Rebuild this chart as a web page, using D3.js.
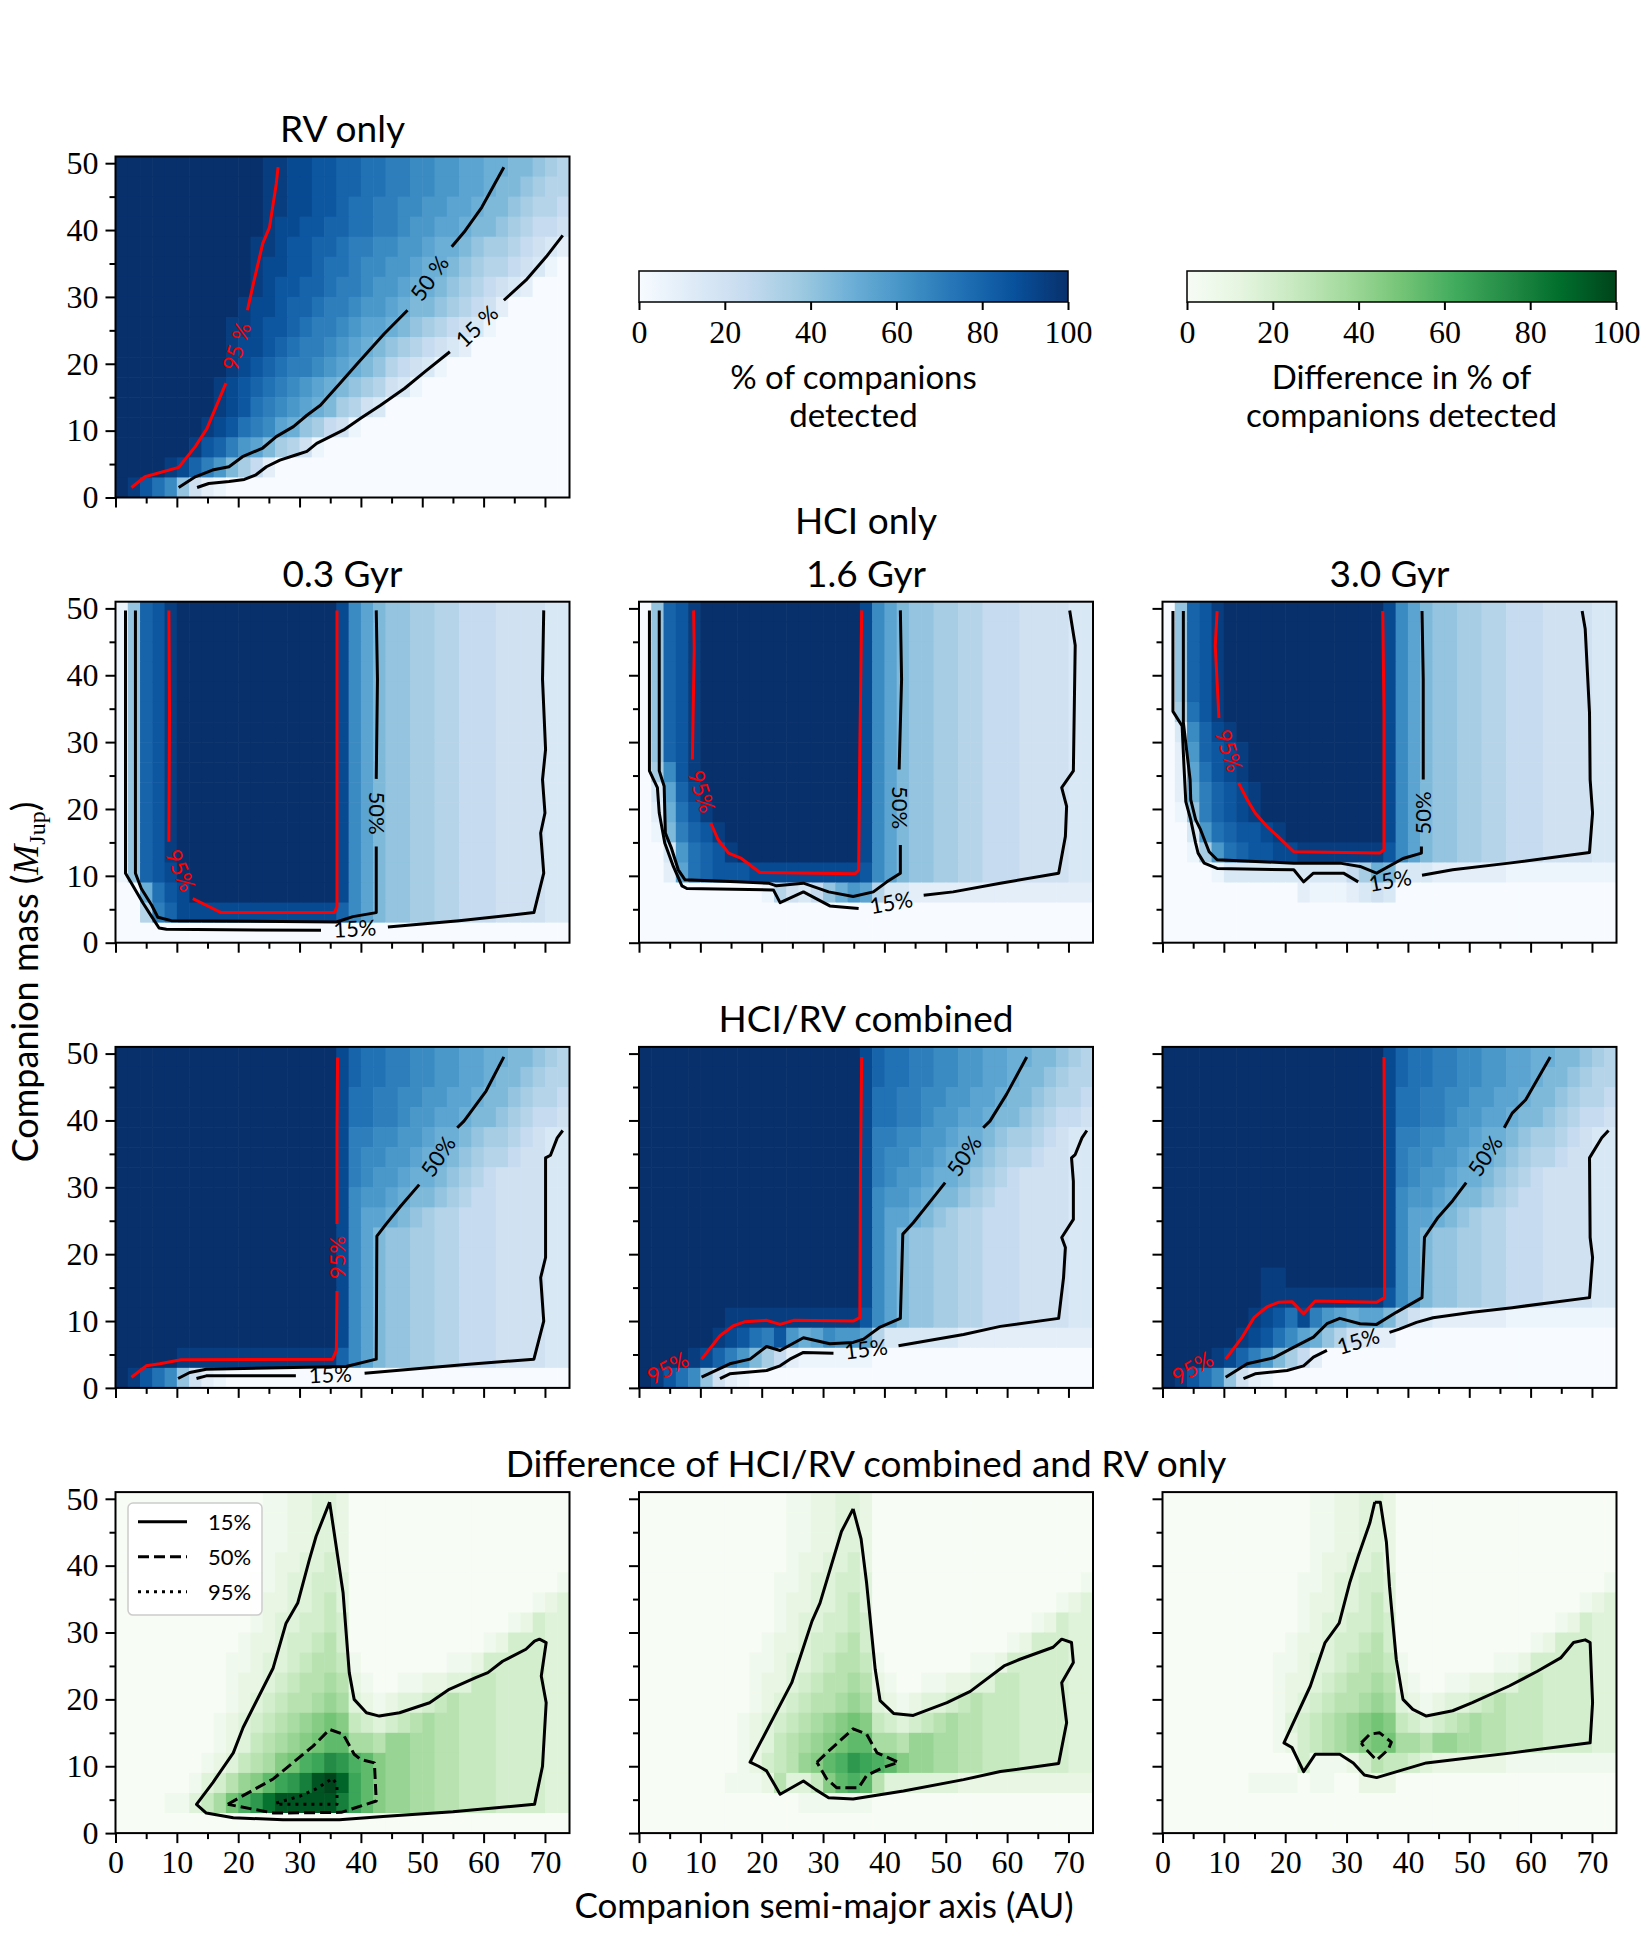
<!DOCTYPE html>
<html>
<head>
<meta charset="utf-8">
<script src="https://cdn.jsdelivr.net/npm/d3@7"></script>
<style>
  body { margin: 0; background: #fff; }
  svg { display: block; background: #fff; }
  .tick text { font-family: "Liberation Serif", "DejaVu Serif", serif !important; }
</style>
</head>
<body>
<svg id="fig" width="1650" height="1950"></svg>
<script>
// ---- data ----
// each grid: 17 rows of 37 cells, top row (48-51 MJup) first; cells are 2 AU x 3 MJup
// one char per cell: '0'..'9','A'..'K' -> 0..100 % in 5 % steps
const LEVELS = '0123456789ABCDEFGHIJK';
const A_STEP = 2, M_STEP = 3, A_MAX = 74, M_MAX = 51;

const massTicks = [0, 10, 20, 30, 40, 50];
const massMinor = [5, 15, 25, 35, 45];
const axisTicks = [0, 10, 20, 30, 40, 50, 60, 70];
const axisMinor = [5, 15, 25, 35, 45, 55, 65];
const pctTicks = [0, 20, 40, 60, 80, 100];
const legendLevels = ['15%', '50%', '95%'];

const rvOnly = [
  'KKKKKKKKKKKKJJIIHHGGFFEEDDCCBBAA99876',
  'KKKKKKKKKKKKJJIIHHGGFFEEDDCCBBA998766',
  'KKKKKKKKKKKKJJIIHHGFFEEDDCCBBA9987665',
  'KKKKKKKKKKKKJIIHHGGFFEEDCCBBA99876554',
  'KKKKKKKKKKKJJIHHGGFEEDDCCBAA987765432',
  'KKKKKKKKKKKJIIHHGFFEDDCCBAA9876654310',
  'KKKKKKKKKKKJIHHGGFEEDCCBAA98765432000',
  'KKKKKKKKKKJIIHGGFEEDCCBA9987654200000',
  'KKKKKKKKKJJIHHGFEEDCBBA98765431000000',
  'KKKKKKKKKJIIHGFEEDCBA9876543200000000',
  'KKKKKKKKKJIHGFEEDCBA98654310000000000',
  'KKKKKKKKJIHGFEDCBA9876431000000000000',
  'KKKKKKKKJIHFEDCBA97643000000000000000',
  'KKKKKKKJIHFEDBA8754100000000000000000',
  'KKKKKKJHGECB9764100000000000000000000',
  'KKKKJIGEC9752000000000000000000000000',
  'KJHFD84210000000000000000000000000000'
];

const hci03 = [
  '18GHJKKKKKKKKKKKKKIDB9887766555444433',
  '18GHJKKKKKKKKKKKKKIDB9887766555444433',
  '18GHJKKKKKKKKKKKKKIDB9887766555444433',
  '18GHJKKKKKKKKKKKKKIDB9887766555444433',
  '18GHJKKKKKKKKKKKKKIDB9887766555444433',
  '18GHJKKKKKKKKKKKKKIDB9887766555444433',
  '18GHJKKKKKKKKKKKKKIDB9887766555444433',
  '18GHJKKKKKKKKKKKKKIDB9887766555444433',
  '18GHJKKKKKKKKKKKKKIDB9887766555444433',
  '18GHJKKKKKKKKKKKKKIDB9887766555444433',
  '18GHJKKKKKKKKKKKKKIDB9887766555444433',
  '18GHJKKKKKKKKKKKKKIDB9887766555444433',
  '18GHJKKKKKKKKKKKKKIDB9887766555444433',
  '18GHIKKKKKKKKKKKKKIDB9887766555444433',
  '00AFHIKKKKKKKKKKKKIDB9887766555444433',
  '006EGIIIIIIIIIIIIIGDB9887766555444433',
  '0000000000000000000000000000000000000'
];

const hci16 = [
  '08GHJKKKKKKKKKKKKKIDB9887766555444433',
  '08GHJKKKKKKKKKKKKKIDB9887766555444433',
  '08GHJKKKKKKKKKKKKKIDB9887766555444433',
  '08GHJKKKKKKKKKKKKKIDB9887766555444433',
  '08GHJKKKKKKKKKKKKKIDB9887766555444433',
  '08GHJKKKKKKKKKKKKKIDB9887766555444433',
  '08GHJKKKKKKKKKKKKKIDB9887766555444433',
  '08GHJKKKKKKKKKKKKKIDB9887766555444433',
  '07DHJKKKKKKKKKKKKKIDB9887766555444433',
  '03BGIKKKKKKKKKKKKKIDB9887766555444433',
  '02AFHJKKKKKKKKKKKKIDB9887766555444433',
  '019EGHJKKKKKKKKKKKIDB9887766555444433',
  '003CFGHJKKKKKKKKKKIDB9887766555444433',
  '002BFGHHHIIIIIIIIIHDB9887766555444433',
  '0000000000164358ACB633222222222222222',
  '0000000000000000000000000000000000000',
  '0000000000000000000000000000000000000'
];

const hci30 = [
  '08GHJKKKKKKKKKKKKKIDB9887766555444433',
  '08GHJKKKKKKKKKKKKKIDB9887766555444433',
  '08GHJKKKKKKKKKKKKKIDB9887766555444433',
  '08GHJKKKKKKKKKKKKKIDB9887766555444433',
  '08GHJKKKKKKKKKKKKKIDB9887766555444433',
  '07FHJKKKKKKKKKKKKKIDB9887766555444433',
  '03DGIJKKKKKKKKKKKKIDB9887766555444433',
  '02CGHIJKKKKKKKKKKKIDB9887766555444433',
  '02BFHIJKKKKKKKKKKKIDB9887766555444433',
  '02AEGHIJKKKKKKKKKKIDB9887766555444433',
  '018EGHIJKKKKKKKKKKIDB9887766555444433',
  '003CFGHHIJKKKKKKKKIDB9887766555444433',
  '0017CFGHHIIJJJJJJJHDB9887766555444433',
  '00001333333333357A9333222222111111111',
  '0000000000021112343000000000000000000',
  '0000000000000000000000000000000000000',
  '0000000000000000000000000000000000000'
];

const comb03 = [
  'KKKKKKKKKKKKKKKKKKIGFFEEDDCCBBAA99876',
  'KKKKKKKKKKKKKKKKKKIGFFEEDDCCBBA998766',
  'KKKKKKKKKKKKKKKKKKIFFEEDDCCBBA9987665',
  'KKKKKKKKKKKKKKKKKKIFFEEDCCBBA99876554',
  'KKKKKKKKKKKKKKKKKKIEEDDCCBAA987765433',
  'KKKKKKKKKKKKKKKKKKIEDDCCBAA9876654433',
  'KKKKKKKKKKKKKKKKKKIEDCCBAA98765444433',
  'KKKKKKKKKKKKKKKKKKIDCCBA9987655444433',
  'KKKKKKKKKKKKKKKKKKIDBBA98766555444433',
  'KKKKKKKKKKKKKKKKKKIDB9887766555444433',
  'KKKKKKKKKKKKKKKKKKIDB9887766555444433',
  'KKKKKKKKKKKKKKKKKKIDB9887766555444433',
  'KKKKKKKKKKKKKKKKKKIDB9887766555444433',
  'KKKKKKKKKKKKKKKKKKIDB9887766555444433',
  'KKKKKKKKKKKKKKKKKKIDB9887766555444433',
  'KKKKKJJJJJJJJJJJJJGDB9887766555444433',
  'KJHFD84210000000000000000000000000000'
];

const comb16 = [
  'KKKKKKKKKKKKKKKKKKIGFFEEDDCCBBAA99876',
  'KKKKKKKKKKKKKKKKKKIGFFEEDDCCBBA998766',
  'KKKKKKKKKKKKKKKKKKIFFEEDDCCBBA9987665',
  'KKKKKKKKKKKKKKKKKKIFFEEDCCBBA99876554',
  'KKKKKKKKKKKKKKKKKKIEEDDCCBAA987765433',
  'KKKKKKKKKKKKKKKKKKIEDDCCBAA9876654433',
  'KKKKKKKKKKKKKKKKKKIEDCCBAA98765444433',
  'KKKKKKKKKKKKKKKKKKIDCCBA9987655444433',
  'KKKKKKKKKKKKKKKKKKIDBBA98766555444433',
  'KKKKKKKKKKKKKKKKKKIDB9887766555444433',
  'KKKKKKKKKKKKKKKKKKIDB9887766555444433',
  'KKKKKKKKKKKKKKKKKKIDB9887766555444433',
  'KKKKKKKKKKKKKKKKKKIDB9887766555444433',
  'KKKKKKKJJJJJJJJJJJHDB9887766555444433',
  'KKKKKKJIHFEHCABDCCB633333322222222222',
  'KKKKJIGEC9752111111000000000000000000',
  'KJHFD84210000000000000000000000000000'
];

const comb30 = [
  'KKKKKKKKKKKKKKKKKKIGFFEEDDCCBBAA99876',
  'KKKKKKKKKKKKKKKKKKIGFFEEDDCCBBA998766',
  'KKKKKKKKKKKKKKKKKKIFFEEDDCCBBA9987665',
  'KKKKKKKKKKKKKKKKKKIFFEEDCCBBA99876554',
  'KKKKKKKKKKKKKKKKKKIEEDDCCBAA987765433',
  'KKKKKKKKKKKKKKKKKKIEDDCCBAA9876654433',
  'KKKKKKKKKKKKKKKKKKIEDCCBAA98765444433',
  'KKKKKKKKKKKKKKKKKKIDCCBA9987655444433',
  'KKKKKKKKKKKKKKKKKKIDBBA98766555444433',
  'KKKKKKKKKKKKKKKKKKIDB9887766555444433',
  'KKKKKKKKKKKKKKKKKKIDB9887766555444433',
  'KKKKKKKKJJKKKKKKKKIDB9887766555444433',
  'KKKKKKKKJJJJJJJJJJHDB9887766555444433',
  'KKKKKKKJIHFIECBABB9643222222111111111',
  'KKKKKKJIHFDBA864322000000000000000000',
  'KKKKJIGEC9752000000000000000000000000',
  'KJHFD84210000000000000000000000000000'
];

const diff03 = [
  '0000000000001122332000000000000000000',
  '0000000000001122332000000000000000000',
  '0000000000001122332000000000000000000',
  '0000000000001223342000000000000000000',
  '0000000000011233443000000000000000001',
  '0000000000012233453000000000000000123',
  '0000000000012334454000000000000012433',
  '0000000000122344564000000000001244433',
  '0000000001123345665100000001124444433',
  '0000000001223456676210011223355444433',
  '0000000001234566787321233456555444433',
  '00000000123456789A9543456766555444433',
  '0000000012356789ABB776887766555444433',
  '00000001235679ACDFECB9887766555444433',
  '000000134689BDEGJKIDB9887766555444433',
  '000011357ACEHJJJJJGDB9887766555444433',
  '0000000000000000000000000000000000000'
];

const diff16 = [
  '0000000000001122332000000000000000000',
  '0000000000001122332000000000000000000',
  '0000000000001122332000000000000000000',
  '0000000000001223342000000000000000000',
  '0000000000011233443000000000000000001',
  '0000000000012233453000000000000000123',
  '0000000000012334454000000000000012433',
  '0000000000122344564000000000001244433',
  '0000000001123345665100000001124444433',
  '0000000001223456676210011223355444433',
  '0000000001234566787321233456555444433',
  '00000000123456789A9543456766555444433',
  '0000000012356789ABB776887766555444433',
  '000000001245689BCEDCB9887766555444433',
  '0000000111263359BCB633333322222222222',
  '0000000000000111111000000000000000000',
  '0000000000000000000000000000000000000'
];

const diff30 = [
  '0000000000001122332000000000000000000',
  '0000000000001122332000000000000000000',
  '0000000000001122332000000000000000000',
  '0000000000001223342000000000000000000',
  '0000000000011233443000000000000000001',
  '0000000000012233453000000000000000123',
  '0000000000012334454000000000000012433',
  '0000000000122344564000000000001244433',
  '0000000001123345665100000001124444433',
  '0000000001223456676210011223355444433',
  '0000000001234566787321233456555444433',
  '00000000013456789A9543456766555444433',
  '00000000012456789AA776887766555444433',
  '0000000000041112465543222222111111111',
  '0000000111101100222000000000000000000',
  '0000000000000000000000000000000000000',
  '0000000000000000000000000000000000000'
];

// contour lines, [semi-major axis AU, mass MJup], split where the inline labels sit
const rvLines = {
  c95: [[[2.6,1.5],[4.8,3.1],[10.3,4.5],[13.0,7.6],[14.9,10.3],[18.0,17.1]],
        [[21.5,28.0],[22.6,32.5],[24.0,38.0],[25.1,40.4],[26.2,46.9],[26.5,49.4]]],
  c50: [[[10.3,1.5],[13.0,3.1],[15.8,4.1],[18.5,4.6],[20.7,6.1],[24.0,7.4],[26.2,9.1],[29.0,10.6],[31.2,12.3],[33.4,13.8],[36.6,17.1],[39.4,20.0],[43.8,24.5],[47.6,28.0]],
        [[54.8,37.5],[57.0,39.9],[59.7,43.4],[63.3,49.4]]],
  c15: [[[13.3,1.5],[15.2,2.1],[18.5,2.4],[21.0,2.7],[22.9,3.4],[24.6,4.6],[26.8,5.6],[29.5,6.4],[31.2,6.9],[32.8,8.1],[35.0,9.1],[37.2,10.1],[39.9,11.8],[43.2,13.8],[47.1,16.3],[50.4,18.8],[54.5,21.8]],
        [[63.3,29.5],[66.9,32.5],[70.2,36.0],[72.9,39.2]]]
};
const rvLabels = [['95 %', 19.75, 22.6, -73, 'c95'], ['50 %', 51.2, 32.8, -55, 'c50'], ['15 %', 58.9, 25.6, -44, 'c15']];

const hci03Lines = {
  c15: [[[1.63,49.7],[1.63,10.4],[2.6,8.9],[4.5,5.9],[5.9,3.9],[7.1,2.2],[8.3,2.0],[33.5,1.85]],
        [[44.4,2.35],[56,3.3],[68.2,4.5],[69.8,10.4],[69.3,16.4],[70,19.4],[69.6,24.4],[70.1,28.9],[69.6,39.4],[69.8,49.7]]],
  c50: [[[3.25,49.7],[3.25,10.4],[4.2,8.1],[5.9,5.6],[6.9,3.8],[9.1,3.3],[36,3.1],[38.7,3.9],[42.5,4.5],[42.5,14.4]],
        [[42.5,24.5],[42.7,39.4],[42.5,49.7]]],
  c95: [[[8.7,49.7],[8.8,34.4],[8.7,15.1]],
        [[12.6,6.6],[14.8,5.6],[17.2,4.5],[35.7,4.5],[36.1,5.4],[36.1,29.4],[36.1,49.7]]]
};
const hci03Labels = [['95%', 10.6, 10.8, 67, 'c95'], ['50%', 42.6, 19.4, 90, 'c50'], ['15%', 39, 2.1, -3, 'c15']];

const hci16Lines = {
  c15: [[[1.7,49.7],[1.7,25.7],[3,23.2],[3.3,19.4],[4.2,14.9],[5.6,11.4],[7,8.5],[7.8,8.1],[21.9,7.9],[23,6],[26.8,7.6],[31.1,5.5],[35.8,5.1]],
        [[46.4,7.1],[51.2,7.6],[58.9,8.9],[68.4,10.4],[69.5,15.9],[69.7,20.4],[68.9,23.2],[70.8,25.7],[71.1,44.5],[70.2,49.7]]],
  c50: [[[3.3,49.7],[3.3,25.7],[4.1,23.4],[4.3,16.4],[5.3,14.1],[6.4,10.9],[7.5,9.4],[15.9,9.1],[21.1,8.9],[22.4,8.5],[26.8,8.9],[30.9,7.6],[34.9,6.9],[38.2,7.6],[40.4,9.1],[42.6,10.4],[42.6,14.6]],
        [[42.4,25.9],[42.8,39.4],[42.6,49.7]]],
  c95: [[[8.9,49.7],[9,44],[8.7,27.4]],
        [[11.7,17.9],[12.9,15.4],[14.6,13.4],[16.7,12.6],[19.7,10.5],[35.2,10.3],[35.8,10.8],[36,29.4],[36.3,49.7]]]
};
const hci16Labels = [['95%', 10.2, 22.6, 72, 'c95'], ['50%', 42.6, 20.2, 90, 'c50'], ['15%', 41.1, 6.0, -10, 'c15']];

const hci30Lines = {
  c15: [[[1.7,49.6],[1.7,34.6],[3.2,32.4],[3.5,26.4],[3.8,21.1],[4.6,18.4],[5.4,14.9],[5.8,13.4],[6.8,11.9],[8.9,11.1],[21.4,10.9],[23,9.1],[24.6,10.4],[29.5,10.4],[31.9,9.1]],
        [[42.3,10.1],[47.3,10.9],[56.5,11.9],[69.6,13.5],[70.1,19.4],[69.7,24.4],[69.6,34.4],[68.9,46.9],[68.4,49.6]]],
  c50: [[[3.4,49.6],[3.4,32.9],[4.5,24.4],[4.6,21.4],[5.4,18.4],[6.2,16.9],[7.6,13.6],[8.9,12.4],[21.4,11.9],[28.9,11.9],[32.2,11.4],[34.9,10.4],[39.2,12.6],[42.2,13.4],[42.2,14.4]],
        [[42.5,24.4],[42.5,39.4],[42.3,49.6]]],
  c95: [[[8.9,49.6],[8.6,44.4],[9.2,33.6]],
        [[12.4,23.9],[13.8,21.4],[15.1,19.4],[17,17.4],[18.6,16.1],[21.4,13.6],[35.4,13.4],[36.1,13.9],[36.1,34.4],[35.9,49.6]]]
};
const hci30Labels = [['95%', 10.8, 28.7, 72, 'c95'], ['50%', 42.4, 19.4, -90, 'c50'], ['15%', 37.1, 9.3, -10, 'c15']];

const comb03Lines = {
  c95: [[[2.6,1.6],[5,3.3],[7.2,3.6],[10.7,4.2],[35.4,4.3],[36,5.6],[36.1,14.5]],
        [[36.1,24.5],[36.1,38.4],[36.2,49.4]]],
  c50: [[[10.2,1.4],[12.1,2.3],[14.8,2.8],[37.6,3.2],[42.5,4.3],[42.6,22.7],[44.1,24.5],[46.5,27.2],[49.5,30.4]],
        [[55.7,38.9],[56.8,39.9],[60.4,44.4],[63.3,49.5]]],
  c15: [[[13.2,1.4],[14.8,1.8],[29.4,1.8]],
        [[40.6,2.2],[57.1,3.5],[68.2,4.3],[69.8,10],[69.3,16.5],[70.1,19.5],[70.1,28.5],[70.1,34.4],[70.9,34.8],[72,37.4],[72.9,38.5]]]
};
const comb03Labels = [['95%', 36.1, 19.5, -90, 'c95'], ['50%', 52.6, 34.6, -56, 'c50'], ['15%', 35, 2.0, -2, 'c15']];

const comb16Lines = {
  c95: [[[10.2,4.3],[13.2,7.8],[15.4,9.3],[17.3,9.9],[20.8,10.1],[23,9.5],[25.2,10.1],[34.9,10],[36,10.5],[36.1,33.4],[36.3,49.5]]],
  c50: [[[10.2,1.6],[14.8,3.6],[18.1,4.3],[20.8,6.2],[23,5.6],[26.8,7.5],[31.1,6.6],[34.9,6.8],[36.6,7.3],[39.3,9.1],[42.6,10.4],[43,23],[44.7,24.7],[48,28.5],[49.9,30.7]],
        [[56.1,38.9],[57.2,39.9],[59.9,43.9],[63.2,49.5]]],
  c15: [[[13.2,1.4],[14.8,2.1],[20.8,2.6],[23,3.3],[24.6,4.3],[26.8,5.3],[31.7,5.2]],
        [[42.3,6.3],[52.9,8],[58.9,9.2],[68.4,10.4],[69.2,16.5],[69.5,21],[68.9,22.5],[70.8,25.2],[70.8,30.9],[70.5,34.4],[71.1,34.9],[72.2,37.4],[73,38.5]]]
};
const comb16Labels = [['95%', 4.7, 3.0, -28, 'c95'], ['50%', 53, 34.7, -56, 'c50'], ['15%', 37, 5.8, -7, 'c15']];

const comb30Lines = {
  c95: [[[10.3,4.3],[13,7.6],[14.9,10.5],[17,12.1],[18.9,12.8],[21.1,12.9],[23,11.1],[24.9,13],[34.9,12.8],[36.2,13.5],[36.2,33.4],[36.1,49.5]]],
  c50: [[[10.3,1.6],[13.8,3.6],[18.1,4.5],[20.8,5.8],[24.6,7.6],[26.8,9.6],[28.9,10.4],[32.2,9.6],[34.9,9.5],[38.1,11.3],[42.3,13.5],[42.7,22.5],[44.9,25.5],[47.3,28],[49.5,30.7]],
        [[55.7,38.9],[57,41.1],[59.2,43.1],[63.2,49.5]]],
  c15: [[[13.2,1.4],[15.1,2.1],[20.3,2.6],[23,3.3],[24.6,4.6],[26.8,5.6]],
        [[37,8.3],[38.6,8.8],[41.4,9.8],[44.1,10.5],[50.5,11.3],[57,12],[69.6,13.5],[70.1,19.5],[69.7,22.5],[69.6,34.4],[71.6,37.4],[72.7,38.5]]]
};
const comb30Labels = [['95%', 4.9, 3.0, -30, 'c95'], ['50%', 52.6, 34.7, -56, 'c50'], ['15%', 31.9, 7.0, -17, 'c15']];

const diff03Lines = {
  c15: [[[34.9,49.5],[32.7,44.4],[31.6,40.9],[29.7,34.4],[27.8,31.4],[25.7,24.7],[20.8,15.8],[19.2,12],[15.9,7.6],[13.2,4.3],[14.8,3],[19.2,2.3],[27.3,2],[36.5,2],[43.6,2.5],[55,3.2],[68.3,4.3],[69.6,10],[70.2,19.5],[69.4,23.5],[70.2,28.5],[69.1,29],[68.3,28.7],[66.9,27.5],[63.1,25.7],[60.7,24],[58.8,23.3],[54.4,21.5],[51.2,19.5],[46.3,18],[43,17.5],[40.9,18],[38.9,20],[38.1,24],[37.6,29.9],[37.1,35.9],[34.9,49.5]]],
  c50: [[[18.3,4.3],[20.2,5.3],[25.7,8.1],[32.2,13],[34.9,15.5],[37.1,14.8],[38.9,11.8],[40,11],[42.2,10.5],[42.5,4.8],[36.8,3.1],[25.7,3],[18.3,4.3]]],
  c95: [[[26.2,4.5],[30,5.5],[32.7,6.6],[35.4,8.2],[36.1,7.2],[36.1,4.3],[26.2,4.3],[26.2,4.5]]]
};
const diff16Lines = {
  c15: [[[34.9,48.5],[33,45.1],[29.5,34.4],[28.2,31.7],[24.9,22.5],[18.1,10.6],[19.5,10],[20.8,9.3],[23,5.8],[26.8,7.8],[28.8,6.5],[30.9,5.3],[34.9,5.1],[43.1,6.3],[52.9,8],[58.9,9.2],[68.4,10.4],[69.7,16.5],[68.9,22.5],[70.8,25.5],[70.5,28.5],[68.9,29],[67.5,27.8],[62.1,26],[59.5,25],[54,21.2],[50.2,19.5],[44.7,17.6],[41.5,17.9],[39.3,19.8],[38.5,24.5],[37.1,37.4],[36.2,44],[34.9,48.5]]],
  c50: [[[29,10.6],[30.6,12],[34.9,15.6],[37.1,14.8],[38.8,12],[42.3,10.6],[39.8,9.8],[37.1,8.6],[35.8,6.8],[32.2,6.8],[30.6,8.1],[29,10.6]]],
  c95: []
};
const diff30Lines = {
  c15: [[[34.6,49.5],[33.8,46.4],[31.9,41.4],[30.5,37.4],[28.8,31.4],[26.5,28.5],[24.1,22],[19.8,13.5],[21.1,12.8],[23,9.2],[24.9,11.8],[28.9,11.8],[31.1,10.5],[32.9,8.7],[34.9,8.3],[38.6,9.3],[43,10.5],[50.5,11.3],[57,12],[69.7,13.5],[70.1,19.5],[69.7,28.5],[68.9,28.9],[67,28.5],[64.9,26.2],[61.1,24.2],[56.5,22],[50.5,19.5],[47.3,18.3],[43,17.5],[40.8,18.5],[39.2,20],[38.1,26],[37,36.9],[36.5,43.5],[35.5,49.5],[34.6,49.5]]],
  c50: [[[32.4,13.5],[33.8,14.8],[35.4,15],[37.3,13.6],[36.8,12.5],[34.9,10.9],[32.9,12.8],[32.4,13.5]]],
  c95: []
};

// ---- layout ----
const W = 454, H = 341;
const colX = [115.5, 639, 1162.5];
const rowY = [156.5, 601.7, 1046.9, 1492.1];
const SANS = 'Lato, "DejaVu Sans", sans-serif';
const SERIF = '"Liberation Serif", "DejaVu Serif", serif';

const blues = ['#f7fbff','#deebf7','#c6dbef','#9ecae1','#6baed6','#4292c6','#2171b5','#08519c','#08306b'];
const greens = ['#f7fcf5','#e5f5e0','#c7e9c0','#a1d99b','#74c476','#41ab5d','#238b45','#006d2c','#00441b'];
const stops = blues.map((_, i) => i * 12.5);
const blueScale = d3.scaleLinear().domain(stops).range(blues).clamp(true);
const greenScale = d3.scaleLinear().domain(stops).range(greens).clamp(true);

const svg = d3.select('#fig');
const defs = svg.append('defs');

const panels = [
  {col: 0, row: 0, grid: rvOnly, cmap: blueScale, lines: rvLines, labels: rvLabels, yLab: true, title: 'RV only'},
  {col: 0, row: 1, grid: hci03, cmap: blueScale, lines: hci03Lines, labels: hci03Labels, yLab: true, title: '0.3 Gyr'},
  {col: 1, row: 1, grid: hci16, cmap: blueScale, lines: hci16Lines, labels: hci16Labels, title: '1.6 Gyr'},
  {col: 2, row: 1, grid: hci30, cmap: blueScale, lines: hci30Lines, labels: hci30Labels, title: '3.0 Gyr'},
  {col: 0, row: 2, grid: comb03, cmap: blueScale, lines: comb03Lines, labels: comb03Labels, yLab: true},
  {col: 1, row: 2, grid: comb16, cmap: blueScale, lines: comb16Lines, labels: comb16Labels},
  {col: 2, row: 2, grid: comb30, cmap: blueScale, lines: comb30Lines, labels: comb30Labels},
  {col: 0, row: 3, grid: diff03, cmap: greenScale, lines: diff03Lines, labels: [], diff: true, yLab: true, xLab: true, legend: true},
  {col: 1, row: 3, grid: diff16, cmap: greenScale, lines: diff16Lines, labels: [], diff: true, xLab: true},
  {col: 2, row: 3, grid: diff30, cmap: greenScale, lines: diff30Lines, labels: [], diff: true, xLab: true}
];

function lineStyle(level, diff) {
  if (diff) {
    return {color: '#000', dash: level === 'c50' ? '11,5' : level === 'c95' ? '3,5' : null};
  }
  return {color: level === 'c95' ? '#ff0000' : '#000', dash: null};
}

function styleAxis(sel, withText) {
  sel.attr('font-family', null).attr('font-size', null);
  sel.select('.domain').remove();
  sel.selectAll('.tick line').attr('stroke', '#000').attr('stroke-width', 2);
  sel.selectAll('.tick text')
    .attr('fill', '#000')
    .style('font-family', SERIF)
    .style('font-size', '32px');
  if (!withText) sel.selectAll('.tick text').remove();
}

function drawPanel(p, idx) {
  const x = d3.scaleLinear().domain([0, A_MAX]).range([0, W]);
  const y = d3.scaleLinear().domain([0, M_MAX]).range([H, 0]);
  const g = svg.append('g').attr('transform', `translate(${colX[p.col]},${rowY[p.row]})`);

  const clipId = `clip${idx}`;
  defs.append('clipPath').attr('id', clipId).append('rect').attr('width', W).attr('height', H);
  const body = g.append('g').attr('clip-path', `url(#${clipId})`);

  const cells = [];
  const nRows = p.grid.length;
  p.grid.forEach((rowStr, i) => {
    const r = nRows - 1 - i;
    const s = rowStr.padEnd(37, '0');
    for (let c = 0; c < 37; c++) {
      cells.push({r, c, v: LEVELS.indexOf(s[c]) * 5});
    }
  });
  body.selectAll('rect.cell').data(cells).join('rect')
    .attr('class', 'cell')
    .attr('x', d => x(d.c * A_STEP))
    .attr('y', d => y((d.r + 1) * M_STEP))
    .attr('width', d => x((d.c + 1) * A_STEP) - x(d.c * A_STEP) + 0.6)
    .attr('height', d => y(d.r * M_STEP) - y((d.r + 1) * M_STEP) + 0.6)
    .attr('fill', d => p.cmap(Math.max(d.v, 0)));

  const line = d3.line().x(d => x(d[0])).y(d => y(d[1]));
  ['c15', 'c50', 'c95'].forEach(level => {
    const st = lineStyle(level, p.diff);
    (p.lines[level] || []).forEach(seg => {
      body.append('path')
        .attr('d', line(seg))
        .attr('fill', 'none')
        .attr('stroke', st.color)
        .attr('stroke-width', 3)
        .attr('stroke-linejoin', 'round')
        .attr('stroke-dasharray', st.dash);
    });
  });

  p.labels.forEach(([text, a, m, angle, level]) => {
    body.append('text')
      .attr('transform', `translate(${x(a)},${y(m)}) rotate(${angle})`)
      .attr('text-anchor', 'middle')
      .attr('dy', '0.36em')
      .attr('font-family', SANS)
      .attr('font-size', 22)
      .attr('fill', level === 'c95' ? '#ff0000' : '#000')
      .text(text);
  });

  // axes
  const yMaj = g.append('g').call(d3.axisLeft(y).tickValues(massTicks).tickSize(10).tickPadding(7));
  styleAxis(yMaj, p.yLab);
  const yMin = g.append('g').call(d3.axisLeft(y).tickValues(massMinor).tickSize(6));
  styleAxis(yMin, false);
  const xMaj = g.append('g').attr('transform', `translate(0,${H})`)
    .call(d3.axisBottom(x).tickValues(axisTicks).tickSize(10).tickPadding(7));
  styleAxis(xMaj, p.xLab);
  const xMin = g.append('g').attr('transform', `translate(0,${H})`)
    .call(d3.axisBottom(x).tickValues(axisMinor).tickSize(6));
  styleAxis(xMin, false);

  g.append('rect').attr('width', W).attr('height', H)
    .attr('fill', 'none').attr('stroke', '#000').attr('stroke-width', 2);

  if (p.title) {
    g.append('text').attr('x', W / 2).attr('y', -15)
      .attr('text-anchor', 'middle').attr('font-family', SANS).attr('font-size', 37)
      .text(p.title);
  }

  if (p.legend) {
    const lg = g.append('g').attr('transform', 'translate(12.5,11)');
    lg.append('rect').attr('width', 134).attr('height', 112).attr('rx', 5)
      .attr('fill', '#fff').attr('fill-opacity', 0.85).attr('stroke', '#cccccc').attr('stroke-width', 1.5);
    legendLevels.forEach((lab, i) => {
      const st = lineStyle(['c15', 'c50', 'c95'][i], true);
      const yy = 18.6 + i * 35;
      lg.append('line').attr('x1', 10).attr('x2', 59).attr('y1', yy).attr('y2', yy)
        .attr('stroke', st.color).attr('stroke-width', 3).attr('stroke-dasharray', st.dash);
      lg.append('text').attr('x', 80).attr('y', yy).attr('dy', '0.36em')
        .attr('font-family', SANS).attr('font-size', 22).text(lab);
    });
  }
}

panels.forEach(drawPanel);

// ---- colorbars ----
const CB_Y = 271, CB_H = 31;
function drawColorbar(x0, width, colors, id, lines) {
  const grad = defs.append('linearGradient').attr('id', id);
  colors.forEach((c, i) => grad.append('stop').attr('offset', `${i * 12.5}%`).attr('stop-color', c));
  const g = svg.append('g').attr('transform', `translate(${x0},${CB_Y})`);
  g.append('rect').attr('width', width).attr('height', CB_H)
    .attr('fill', `url(#${id})`).attr('stroke', '#000').attr('stroke-width', 1.5);
  const s = d3.scaleLinear().domain([0, 100]).range([0, width]);
  const ax = g.append('g').attr('transform', `translate(0,${CB_H})`)
    .call(d3.axisBottom(s).tickValues(pctTicks).tickSize(8).tickPadding(10));
  styleAxis(ax, true);
  lines.forEach((t, i) => {
    g.append('text').attr('x', width / 2).attr('y', 118 + i * 38)
      .attr('text-anchor', 'middle').attr('font-family', SANS).attr('font-size', 33)
      .text(t);
  });
}
drawColorbar(639, 429, blues, 'gradBlues', ['% of companions', 'detected']);
drawColorbar(1187, 429, greens, 'gradGreens', ['Difference in % of', 'companions detected']);

// ---- figure texts ----
const midX = colX[1] + W / 2;
[['HCI only', 534], ['HCI/RV combined', 1032], ['Difference of HCI/RV combined and RV only', 1477]]
  .forEach(([t, yy]) => {
    svg.append('text').attr('x', midX).attr('y', yy).attr('text-anchor', 'middle')
      .attr('font-family', SANS).attr('font-size', 37).text(t);
  });

svg.append('text').attr('x', 824).attr('y', 1918).attr('text-anchor', 'middle')
  .attr('font-family', SANS).attr('font-size', 35).text('Companion semi-major axis (AU)');

const yl = svg.append('text')
  .attr('transform', 'translate(38,982) rotate(-90)')
  .attr('text-anchor', 'middle').attr('font-family', SANS).attr('font-size', 36);
yl.append('tspan').text('Companion mass (');
yl.append('tspan').attr('font-family', SERIF).attr('font-style', 'italic').text('M');
yl.append('tspan').attr('font-family', SERIF).attr('font-size', 24).attr('dy', 7).text('Jup');
yl.append('tspan').attr('dy', -7).text(')');
</script>
</body>
</html>
